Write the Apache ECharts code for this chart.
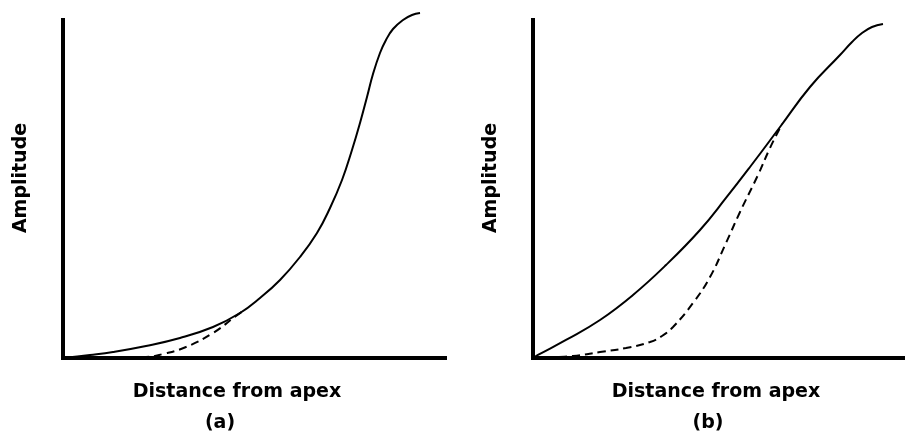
<!DOCTYPE html>
<html>
<head>
<meta charset="utf-8">
<script src="https://cdn.jsdelivr.net/npm/echarts@6/dist/echarts.min.js"></script>
<style>html,body{margin:0;padding:0;background:#fff}#c{width:905px;height:435px}</style>
</head>
<body>
<div id="c"></div>
<script>
// Panel (a): distance (0-100) vs amplitude (0-100)
const aSolidX = [0, 7.07, 13.09, 21.73, 30.63, 39.27, 46.34, 51.57, 56.81, 62.04, 66.49, 69.90, 73.04, 75.65, 77.75, 79.58, 81.15, 82.98, 84.55, 86.39, 89.01, 91.36, 93.46];
const aSolidY = [0, 0.89, 1.78, 3.55, 5.92, 9.17, 13.31, 17.75, 23.08, 29.88, 36.98, 44.38, 52.66, 61.54, 69.53, 77.22, 84.02, 90.24, 94.08, 97.34, 100, 101.48, 102.07];
const aDashX = [0, 21.73, 26.18, 32.20, 39.27, 45.29, 47.12];
const aDashY = [0, 0.3, 1.18, 3.25, 7.40, 12.43, 13.91];
// Panel (b)
const bSolidX = [0, 1.35, 8.92, 18.11, 27.03, 35.95, 45.14, 52.16, 58.65, 66.76, 74.86, 82.97, 86.22, 88.92, 91.62, 94.59];
const bSolidY = [0, 0.89, 5.33, 11.24, 18.64, 27.51, 37.87, 47.34, 56.51, 68.34, 80.18, 89.64, 93.49, 96.15, 97.93, 98.82];
const bDashX = [0, 10.81, 18.11, 25.14, 31.62, 34.86, 37.84, 43.24, 47.84, 52.16, 55.95, 60.81, 64.05, 67.30];
const bDashY = [0, 0.59, 1.78, 2.96, 4.73, 6.51, 9.17, 16.27, 23.96, 34.02, 43.20, 54.14, 62.13, 69.23];
const xName = 'Distance from apex';
const yName = 'Amplitude';
const panelLabels = ['(a)', '(b)'];

const zip = (xs, ys) => xs.map((x, i) => [x, ys[i]]);
const font = '"DejaVu Sans", sans-serif';
const baseText = {color: '#000', fontFamily: font, fontWeight: 'bold', fontSize: 19};
const axLine = {show: true, lineStyle: {color: '#000', width: 4, cap: 'square'}};

function xAx(i, pad) {
  return {type: 'value', gridIndex: i, min: 0, max: 100, name: xName, nameLocation: 'middle',
    nameGap: 25, nameTextStyle: Object.assign({padding: pad}, baseText), axisLine: axLine,
    axisTick: {show: false}, axisLabel: {show: false}, splitLine: {show: false}};
}
function yAx(i) {
  return {type: 'value', gridIndex: i, min: 0, max: 100, name: yName, nameLocation: 'middle',
    nameGap: 32, nameRotate: 90, nameTextStyle: Object.assign({padding: [0, 0, 0, 22]}, baseText),
    axisLine: axLine, axisTick: {show: false}, axisLabel: {show: false}, splitLine: {show: false}};
}
function ser(i, xs, ys, dashed) {
  return {type: 'line', xAxisIndex: i, yAxisIndex: i, data: zip(xs, ys), smooth: 0.45,
    showSymbol: false, clip: false, silent: true,
    lineStyle: {color: '#000', width: 2, type: dashed ? [8, 5] : 'solid'}};
}

const chart = echarts.init(document.getElementById('c'));
chart.setOption({
  backgroundColor: '#fff',
  animation: false,
  title: [
    {text: panelLabels[0], left: 215, top: 409, textAlign: 'center', textStyle: baseText},
    {text: panelLabels[1], left: 703, top: 409, textAlign: 'center', textStyle: baseText}
  ],
  grid: [
    {left: 63, top: 20, width: 382, height: 338},
    {left: 533, top: 20, width: 370, height: 338}
  ],
  xAxis: [xAx(0, [0, 34, 0, 0]), xAx(1, [0, 4, 0, 0])],
  yAxis: [yAx(0), yAx(1)],
  series: [
    ser(0, aSolidX, aSolidY, false),
    ser(0, aDashX, aDashY, true),
    ser(1, bSolidX, bSolidY, false),
    ser(1, bDashX, bDashY, true)
  ]
});
</script>
</body>
</html>
